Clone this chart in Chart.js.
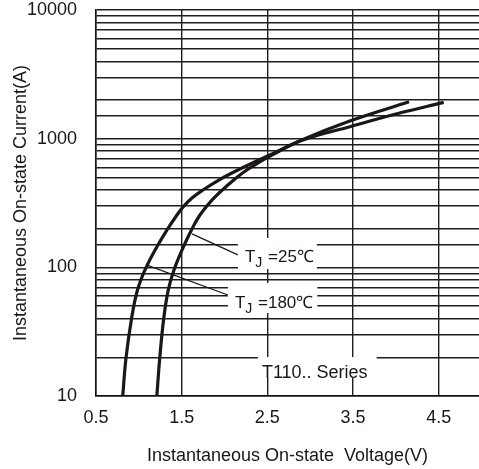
<!DOCTYPE html>
<html>
<head>
<meta charset="utf-8">
<script src="https://cdn.jsdelivr.net/npm/chart.js@4.4.0/dist/chart.umd.min.js"></script>
<style>
  html, body { margin: 0; padding: 0; background: #ffffff; }
  #wrap { width: 479px; height: 469px; }
</style>
</head>
<body>
<div id="wrap"><canvas id="vtChart" width="479" height="469"></canvas></div>
<script>
// on-state characteristic
var v25  = [1.21, 1.244, 1.291, 1.343, 1.410, 1.503, 1.614, 1.713, 1.853, 2.039, 2.226, 2.389, 2.552, 2.902, 3.462, 4.154];
var i25  = [10, 19.7, 40.4, 66.6, 95.3, 136, 195, 255, 333, 436, 550, 646, 746, 975, 1371, 1935];
var v180 = [0.812, 0.850, 0.916, 0.984, 1.071, 1.188, 1.328, 1.445, 1.515, 1.620, 1.748, 1.934, 2.203, 2.529, 2.914, 3.462, 4.045, 4.558];
var i180 = [10, 19.7, 40.4, 66.6, 95.3, 136, 195, 255, 294, 346, 399, 477, 591, 746, 975, 1238, 1581, 1915];

var xTicks = [0.5, 1.5, 2.5, 3.5, 4.5];
var yLabels = [10, 100, 1000, 10000];

var FONT = 'Arial, "Liberation Sans", sans-serif';
var INK = '#1c1616';

function pts(xs, ys) {
  var out = [];
  xs.forEach(function (x, k) { out.push({x: x, y: ys[k]}); });
  return out;
}

// leader lines and boxed labels, in data coordinates
var leaders = [
  {from: [1.62, 182], to: [2.156, 125]},
  {from: [1.095, 104], to: [2.039, 61]}
];
var labels = [
  {x: 2.238, y: 110, main: 'T', sub: 'J', rest: ' =25\u2103', pad: [7, 3, 24, 7]},
  {x: 2.121, y: 48.3, main: 'T', sub: 'J', rest: ' =180\u2103', pad: [7, 4, 25, 5]},
  {x: 2.436, y: 13.8, main: 'T110.. Series', sub: '', rest: '', pad: [4, 9, 21, 0], size: 18}
];

const notes = {
  id: 'notes',
  afterDatasetsDraw: function (chart) {
    const ctx = chart.ctx;
    const xs = chart.scales.x, ys = chart.scales.y;
    ctx.save();
    ctx.strokeStyle = INK;
    ctx.lineWidth = 1.2;
    leaders.forEach(function (l) {
      ctx.beginPath();
      ctx.moveTo(xs.getPixelForValue(l.from[0]), ys.getPixelForValue(l.from[1]));
      ctx.lineTo(xs.getPixelForValue(l.to[0]), ys.getPixelForValue(l.to[1]));
      ctx.stroke();
    });
    labels.forEach(function (lb) {
      var px = xs.getPixelForValue(lb.x), py = ys.getPixelForValue(lb.y);
      var size = lb.size || 17;
      ctx.font = size + 'px ' + FONT;
      var w1 = ctx.measureText(lb.main).width;
      ctx.font = '14px ' + FONT;
      var w2 = lb.sub ? ctx.measureText(lb.sub).width + 1 : 0;
      ctx.font = size + 'px ' + FONT;
      var w3 = lb.rest ? ctx.measureText(lb.rest).width : 0;
      var w = w1 + w2 + w3;
      ctx.fillStyle = '#ffffff';
      ctx.fillRect(px - lb.pad[0], py - lb.pad[2], w + lb.pad[0] + lb.pad[1], lb.pad[2] + lb.pad[3]);
      ctx.fillStyle = INK;
      ctx.textBaseline = 'alphabetic';
      ctx.textAlign = 'left';
      ctx.fillText(lb.main, px, py);
      if (lb.sub) {
        ctx.font = '14px ' + FONT;
        ctx.fillText(lb.sub, px + w1, py + 5);
        ctx.font = size + 'px ' + FONT;
      }
      if (lb.rest) ctx.fillText(lb.rest, px + w1 + w2, py);
    });
    ctx.restore();
  }
};

new Chart(document.getElementById('vtChart'), {
  type: 'scatter',
  data: {
    datasets: [
      {label: 'TJ=25', data: pts(v25, i25)},
      {label: 'TJ=180', data: pts(v180, i180)}
    ]
  },
  options: {
    responsive: false,
    animation: false,
    showLine: true,
    layout: {padding: {top: 10, right: 0, left: 0, bottom: 0}},
    elements: {
      point: {radius: 0},
      line: {borderColor: INK, borderWidth: 3.2, tension: 0.4, fill: false}
    },
    plugins: {legend: {display: false}, tooltip: {enabled: false}},
    scales: {
      x: {
        type: 'linear',
        min: 0.5,
        max: 4.97,
        afterBuildTicks: function (s) { s.ticks = xTicks.map(function (v) { return {value: v}; }); },
        afterFit: function (s) { s.height = 73; s.paddingLeft = 0; s.paddingRight = 0; },
        grid: {color: '#1e1e1e', lineWidth: 1.4, drawTicks: false},
        border: {color: '#111', width: 1.5},
        ticks: {color: INK, padding: 11, font: {family: FONT, size: 18},
          callback: function (v) { return v.toFixed(1); }},
        title: {display: true, text: 'Instantaneous On-state  Voltage(V)', color: INK,
          font: {family: FONT, size: 18}, padding: {top: 4, bottom: 2}}
      },
      y: {
        type: 'logarithmic',
        min: 10,
        max: 10000,
        afterFit: function (s) { s.width = 96; s.paddingTop = 0; s.paddingBottom = 0; },
        grid: {color: '#1e1e1e', lineWidth: 1.4, drawTicks: false},
        border: {color: '#111', width: 1.5},
        ticks: {color: INK, padding: 19, font: {family: FONT, size: 18}, autoSkip: false,
          callback: function (v) { return yLabels.indexOf(v) >= 0 ? String(v) : ''; }},
        title: {display: true, text: 'Instantaneous On-state Current(A)', color: INK,
          font: {family: FONT, size: 18}, padding: {top: 10, bottom: 0}}
      }
    }
  },
  plugins: [notes]
});
</script>
</body>
</html>
